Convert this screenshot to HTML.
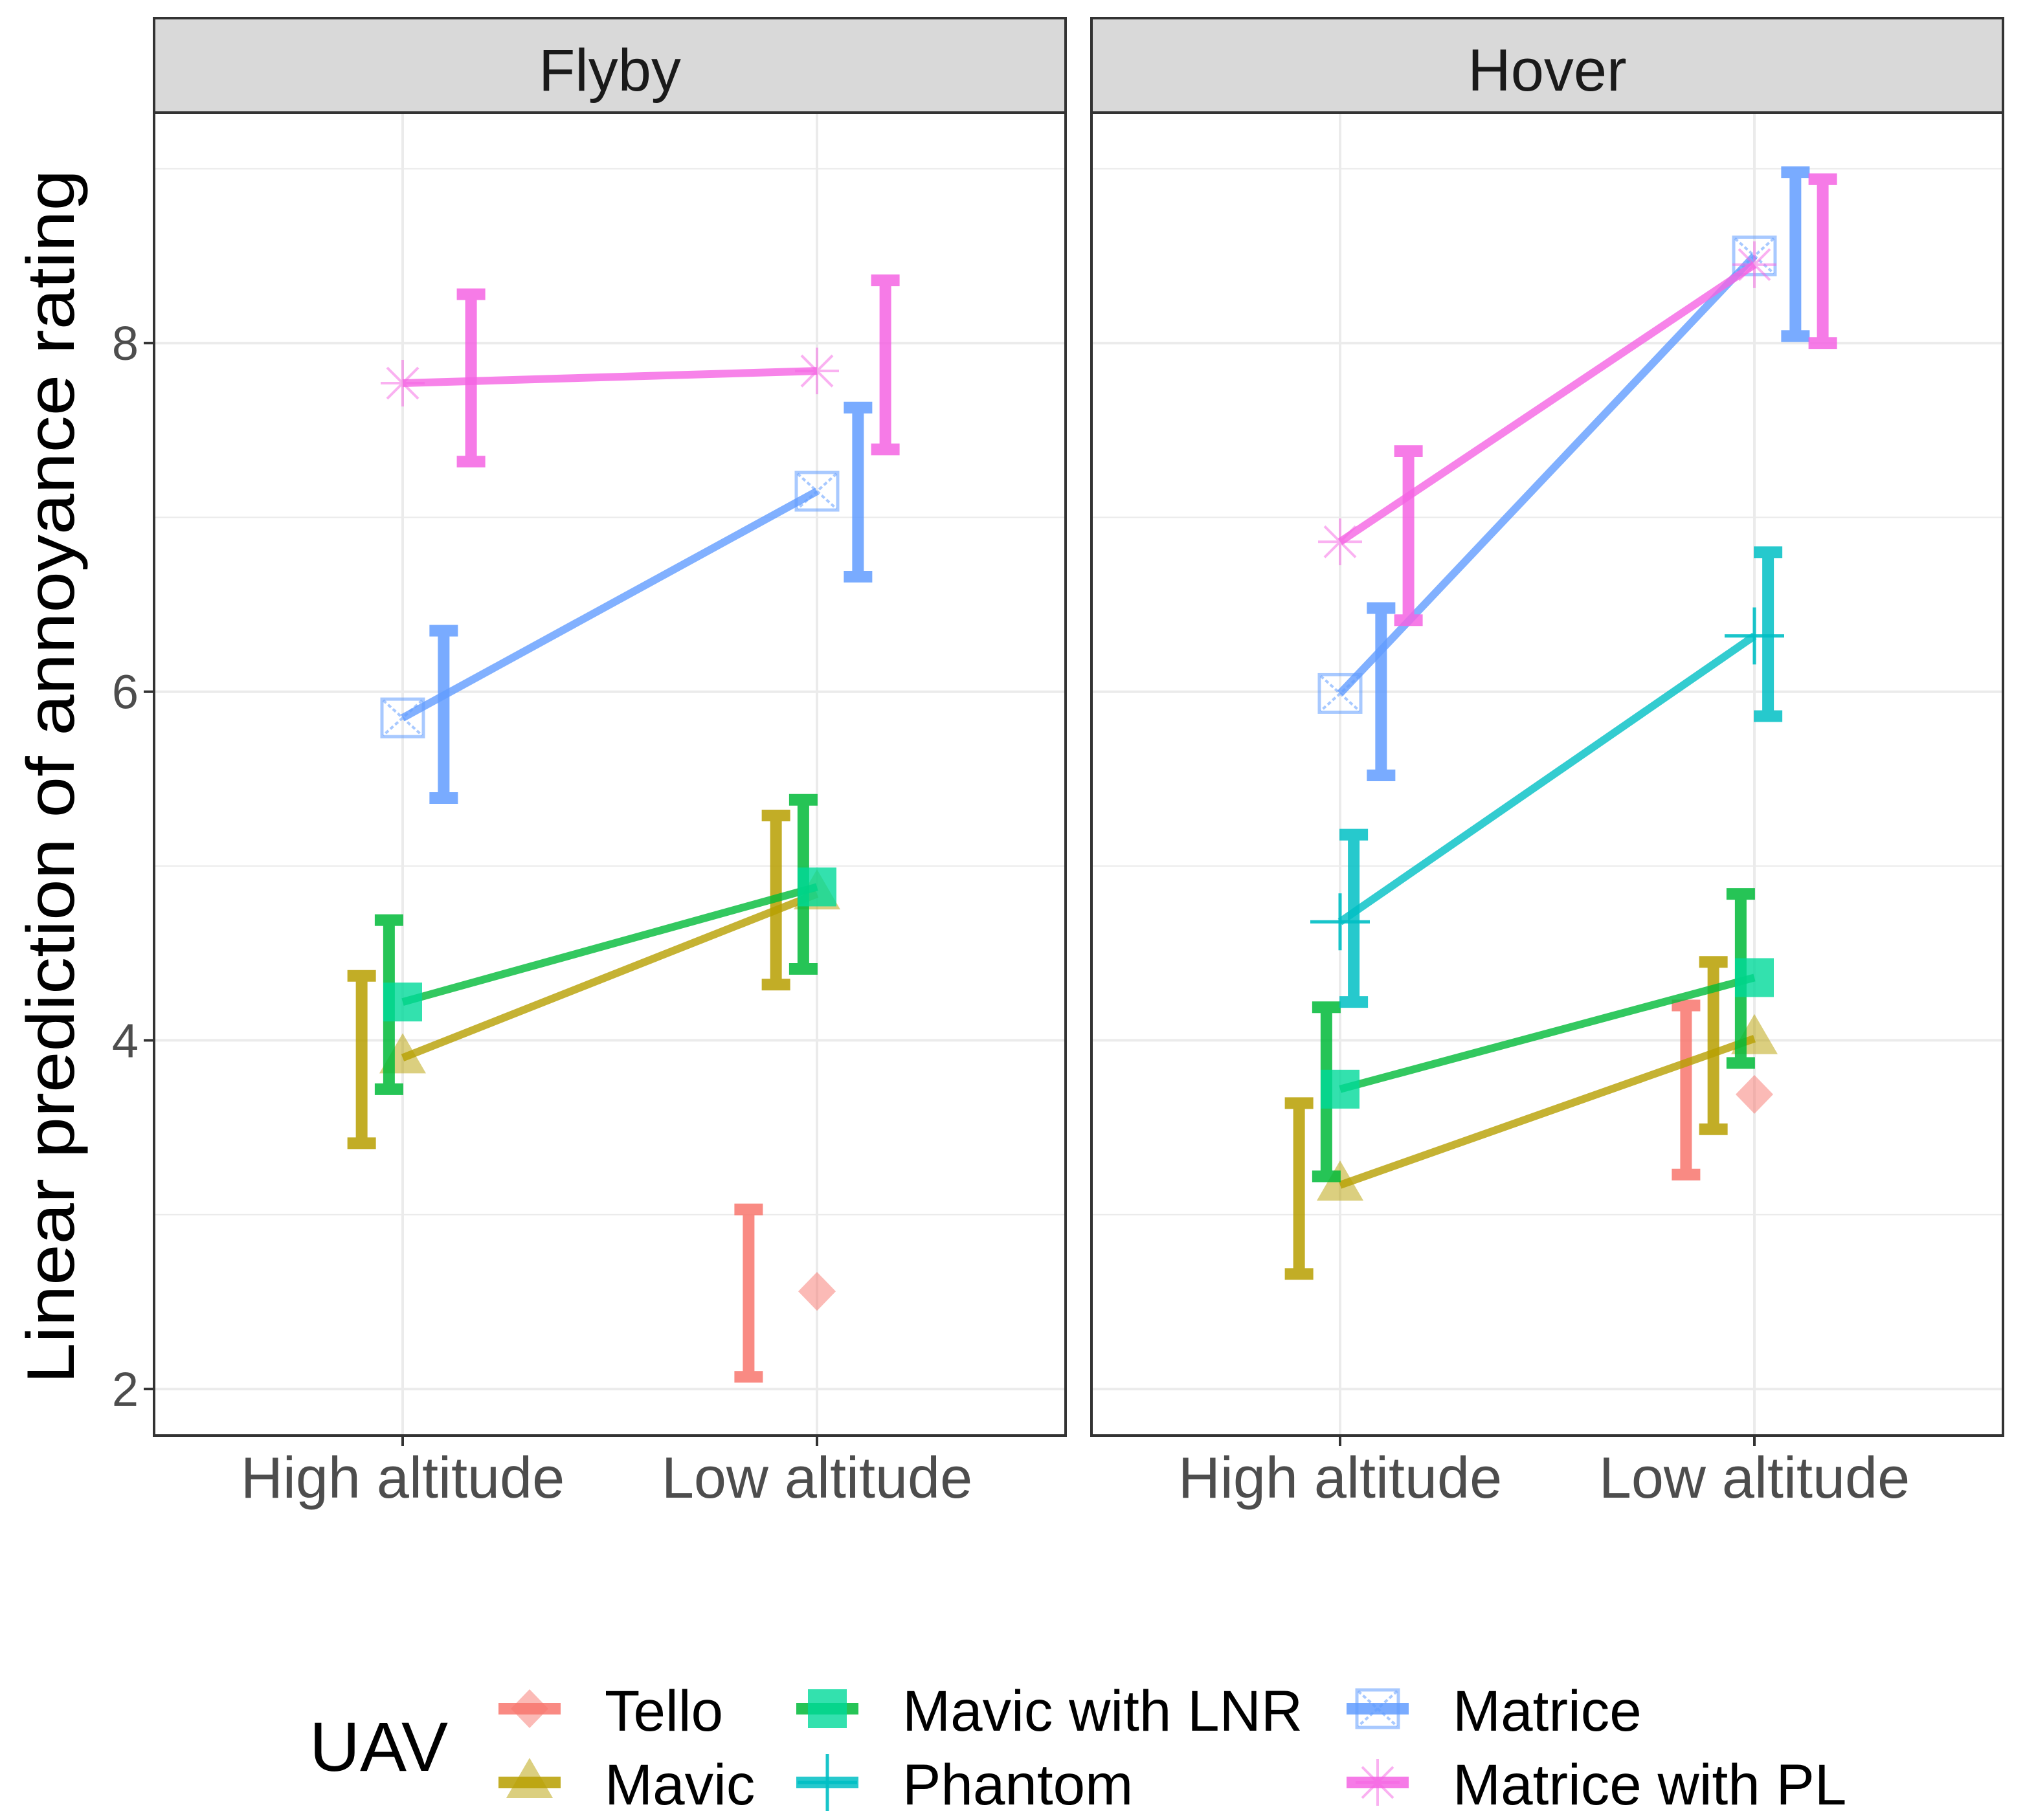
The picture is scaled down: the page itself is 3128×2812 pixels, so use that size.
<!DOCTYPE html>
<html><head><meta charset="utf-8"><style>
html,body{margin:0;padding:0;background:#fff;}
svg{display:block;}
text{font-family:"Liberation Sans",Arial,sans-serif;}
</style></head><body>
<svg id="chart" width="3128" height="2812" viewBox="0 0 3128 2812" xmlns="http://www.w3.org/2000/svg">
<g id="panels"></g>
<text transform="translate(114,1200) rotate(-90)" text-anchor="middle" font-size="104" fill="#000" textLength="1876" lengthAdjust="spacingAndGlyphs">Linear prediction of annoyance rating</text>
<g id="legend"></g>
</svg>
<script>
const facets = ["Flyby", "Hover"];
const categories = ["High altitude", "Low altitude"];
const series = ["Tello", "Mavic", "Mavic with LNR", "Phantom", "Matrice", "Matrice with PL"];
const yTicks = [2, 4, 6, 8];
const flybyMean = [[null, 2.56], [3.90, 4.84], [4.22, 4.88], [null, null], [5.85, 7.15], [7.77, 7.84]];
const flybyLow  = [[null, 2.07], [3.41, 4.32], [3.72, 4.41], [null, null], [5.39, 6.66], [7.32, 7.39]];
const flybyHigh = [[null, 3.03], [4.37, 5.29], [4.69, 5.38], [null, null], [6.35, 7.63], [8.28, 8.36]];
const hoverMean = [[null, 3.69], [3.17, 4.01], [3.72, 4.36], [4.68, 6.32], [5.99, 8.50], [6.86, 8.45]];
const hoverLow  = [[null, 3.23], [2.66, 3.49], [3.22, 3.87], [4.22, 5.86], [5.52, 8.04], [6.41, 8.00]];
const hoverHigh = [[null, 4.20], [3.64, 4.45], [4.19, 4.84], [5.18, 6.80], [6.48, 8.98], [7.38, 8.94]];

const colors = ["#F8766D", "#B79F00", "#00BA38", "#00BFC4", "#619CFF", "#F564E3"];
const NS = "http://www.w3.org/2000/svg";
function mk(tag, attrs, parent) {
  const e = document.createElementNS(NS, tag);
  for (const k in attrs) e.setAttribute(k, attrs[k]);
  parent.appendChild(e);
  return e;
}
const panelX = [238, 1686], panelW = 1408, plotTop = 174, plotBot = 2218, stripTop = 28;
const yMin = 1.733, yMax = 9.322;
function yS(v) { return plotBot - (v - yMin) / (yMax - yMin) * (plotBot - plotTop); }
function xS(p, pos) { const u = panelW / 2.2; return panelX[p] + (pos + 0.6) * u; }

function marker(g, si, cx, cy) {
  const c = colors[si];
  if (si === 0) mk("polygon", {points: `${cx},${cy-30} ${cx+29},${cy} ${cx},${cy+30} ${cx-29},${cy}`, fill: c, "fill-opacity": 0.5}, g);
  else if (si === 1) mk("polygon", {points: `${cx},${cy-38} ${cx+36},${cy+24} ${cx-36},${cy+24}`, fill: c, "fill-opacity": 0.5}, g);
  else if (si === 2) mk("rect", {x: cx-30, y: cy-30, width: 60, height: 60, fill: "#00D99A", "fill-opacity": 0.8}, g);
  else if (si === 3) {
    mk("line", {x1: cx-46, y1: cy, x2: cx+46, y2: cy, stroke: c, "stroke-width": 5, "stroke-opacity": 0.9}, g);
    mk("line", {x1: cx, y1: cy-44, x2: cx, y2: cy+44, stroke: c, "stroke-width": 5, "stroke-opacity": 0.9}, g);
  } else if (si === 4) {
    mk("rect", {x: cx-32, y: cy-29, width: 64, height: 58, fill: "none", stroke: c, "stroke-width": 5, "stroke-opacity": 0.55}, g);
    mk("path", {d: `M${cx-30},${cy-27}L${cx+30},${cy+27}M${cx+30},${cy-27}L${cx-30},${cy+27}`, stroke: c, "stroke-width": 4, "stroke-opacity": 0.55, "stroke-dasharray": "6 4"}, g);
  } else {
    mk("path", {d: `M${cx-34},${cy}L${cx+34},${cy}M${cx},${cy-36}L${cx},${cy+36}M${cx-24},${cy-24}L${cx+24},${cy+24}M${cx+24},${cy-24}L${cx-24},${cy+24}`, stroke: c, "stroke-width": 4, "stroke-opacity": 0.5}, g);
  }
}

const panels = document.getElementById("panels");
const means = [flybyMean, hoverMean], lows = [flybyLow, hoverLow], highs = [flybyHigh, hoverHigh];
facets.forEach((f, p) => {
  const g = mk("g", {}, panels);
  
  
  const x0 = panelX[p];
  const strip = mk("rect", {x: x0, y: stripTop, width: panelW, height: plotTop - stripTop, fill: "#D9D9D9", stroke: "#333", "stroke-width": 4}, g);
  
  
  const st = mk("text", {x: x0 + panelW / 2, y: 140, "text-anchor": "middle", "font-size": 92, fill: "#1a1a1a"}, g);
  st.textContent = f;
  
  
  for (let v = 3; v <= 9; v += 2) mk("line", {x1: x0, x2: x0 + panelW, y1: yS(v), y2: yS(v), stroke: "#EBEBEB", "stroke-width": 2}, g);
  yTicks.forEach(v => mk("line", {x1: x0, x2: x0 + panelW, y1: yS(v), y2: yS(v), stroke: "#EBEBEB", "stroke-width": 4}, g));
  categories.forEach((c, i) => {
    mk("line", {x1: xS(p, i), x2: xS(p, i), y1: plotTop, y2: plotBot, stroke: "#EBEBEB", "stroke-width": 4}, g);
    mk("line", {x1: xS(p, i), x2: xS(p, i), y1: plotBot, y2: plotBot + 16, stroke: "#333", "stroke-width": 4}, g);
    const t = mk("text", {x: xS(p, i), y: 2314, "text-anchor": "middle", "font-size": 90, fill: "#4D4D4D"}, g);
    t.textContent = c;
    
    
  });
  series.forEach((s, si) => {
    const sg = mk("g", {}, g);
    
    
    const m = means[p][si], lo = lows[p][si], hi = highs[p][si];
    const off = (si - 2.5) * 0.066;
    for (let i = 0; i < 2; i++) {
      if (lo[i] == null) continue;
      const ex = xS(p, i + off);
      const eb = mk("path", {d: `M${ex},${yS(hi[i])}V${yS(lo[i])}M${ex-22},${yS(hi[i])}H${ex+22}M${ex-22},${yS(lo[i])}H${ex+22}`, stroke: colors[si], "stroke-width": 18, fill: "none", "stroke-opacity": 0.85}, sg);
      
      
    }
    if (m[0] != null && m[1] != null) {
      const ln = mk("line", {x1: xS(p, 0), y1: yS(m[0]), x2: xS(p, 1), y2: yS(m[1]), stroke: colors[si], "stroke-width": 12, "stroke-opacity": 0.8}, sg);
      
      
    }
    for (let i = 0; i < 2; i++) if (m[i] != null) marker(sg, si, xS(p, i), yS(m[i]));
  });
  mk("rect", {x: x0, y: plotTop, width: panelW, height: plotBot - plotTop, fill: "none", stroke: "#333", "stroke-width": 4}, g);
  if (p === 0) {
    yTicks.forEach(v => {
      mk("line", {x1: x0 - 16, x2: x0, y1: yS(v), y2: yS(v), stroke: "#333", "stroke-width": 4}, g);
      const t = mk("text", {x: x0 - 24, y: yS(v) + 26, "text-anchor": "end", "font-size": 74, fill: "#4D4D4D"}, g);
      t.textContent = v;
      
      
    });
  }
});

const lg = document.getElementById("legend");
const lt = mk("text", {x: 478, y: 2736, "font-size": 108, fill: "#000"}, lg);
lt.textContent = "UAV";


const colKeyX = [770, 1230, 2080], colTextX = [934, 1394, 2244], rowY = [2640, 2754];
series.forEach((s, si) => {
  const col = Math.floor(si / 2), row = si % 2;
  const eg = mk("g", {}, lg);
  
  
  const kx = colKeyX[col], ky = rowY[row];
  mk("line", {x1: kx, x2: kx + 96, y1: ky, y2: ky, stroke: colors[si], "stroke-width": 18, "stroke-opacity": 0.85}, eg);
  marker(eg, si, kx + 48, ky);
  const t = mk("text", {x: colTextX[col], y: ky + 34, "font-size": 89, fill: "#000"}, eg);
  t.textContent = s;
});
</script>
</body></html>
